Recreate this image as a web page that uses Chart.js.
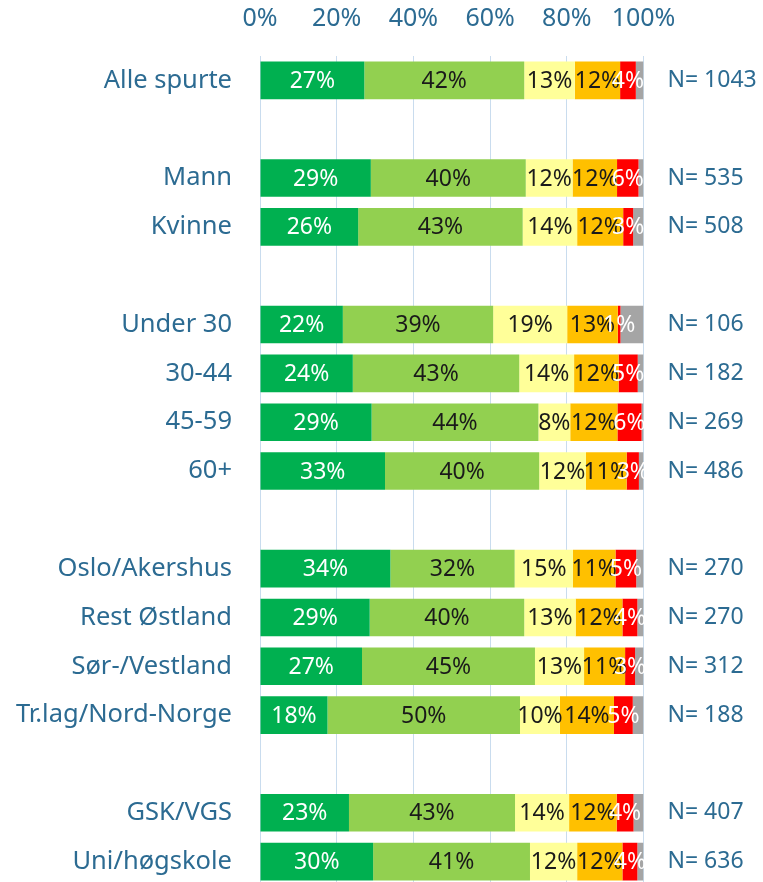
<!DOCTYPE html>
<html>
<head>
<meta charset="utf-8">
<script src="https://cdn.jsdelivr.net/npm/chart.js@4.4.0/dist/chart.umd.min.js"></script>
<style>
  html, body { margin: 0; padding: 0; background: #fff; overflow: hidden; }
  canvas { display: block; }
</style>
</head>
<body>
<canvas id="chart" width="763" height="886" style="width:763px;height:886px"></canvas>
<script>
// rows, blank strings are the gaps between groups
const categories = ["Alle spurte", "", "Mann", "Kvinne", "", "Under 30", "30-44", "45-59", "60+", "",
  "Oslo/Akershus", "Rest Østland", "Sør-/Vestland", "Tr.lag/Nord-Norge", "", "GSK/VGS", "Uni/høgskole"];
const nLabels = ["N= 1043", "", "N= 535", "N= 508", "", "N= 106", "N= 182", "N= 269", "N= 486", "",
  "N= 270", "N= 270", "N= 312", "N= 188", "", "N= 407", "N= 636"];

const s1 = [27.2, null, 28.9, 25.6, null, 21.6, 24.2, 29.1, 32.6, null, 34.0, 28.6, 26.6, 17.6, null, 23.2, 29.5];
const s2 = [41.7, null, 40.4, 42.9, null, 39.2, 43.4, 43.5, 40.2, null, 32.4, 40.3, 45.1, 50.2, null, 43.3, 40.9];
const s3 = [13.2, null, 12.2, 14.2, null, 19.3, 14.3, 8.3, 12.2, null, 15.2, 13.4, 12.8, 10.4, null, 14.1, 12.3];
const s4 = [11.8, null, 11.6, 12.0, null, 13.2, 11.6, 12.3, 10.6, null, 11.1, 12.2, 10.7, 14.1, null, 12.4, 11.8];
const s5 = [4.1, null, 5.6, 2.6, null, 0.7, 5.0, 6.3, 3.2, null, 5.4, 3.9, 2.6, 4.9, null, 4.4, 3.9];
const s6 = [2.0, null, 1.3, 2.7, null, 6.0, 1.5, 0.5, 1.2, null, 1.9, 1.6, 2.2, 2.8, null, 2.6, 1.6];

const xTicks = [0, 20, 40, 60, 80, 100];

const TEXT = "#2C6B92";
const FONT = "'Noto Sans', sans-serif";

const segLabels = {
  id: "segLabels",
  afterDatasetsDraw(chart) {
    const ctx = chart.ctx;
    ctx.save();
    ctx.font = "23px " + FONT;
    ctx.textAlign = "center";
    ctx.textBaseline = "middle";
    chart.data.datasets.forEach((ds, i) => {
      if (!ds.labelColor) return;
      const meta = chart.getDatasetMeta(i);
      meta.data.forEach((el, j) => {
        const v = ds.data[j];
        if (v == null) return;
        const p = el.getCenterPoint();
        ctx.fillStyle = ds.labelColor;
        ctx.fillText(Math.round(v) + "%", p.x, p.y + 1);
      });
    });
    ctx.restore();
  }
};

// fixed widths, and no extra vertical padding from the side axes
function sideFit(w) {
  return s => { s.width = w; s.paddingTop = 0; s.paddingBottom = 0; };
}

new Chart(document.getElementById("chart"), {
  type: "bar",
  data: {
    labels: categories,
    datasets: [
      {data: s1, backgroundColor: "#00B050", labelColor: "#FFFFFF"},
      {data: s2, backgroundColor: "#92D050", labelColor: "#1A1A1A"},
      {data: s3, backgroundColor: "#FFFF99", labelColor: "#1A1A1A"},
      {data: s4, backgroundColor: "#FFC000", labelColor: "#1A1A1A"},
      {data: s5, backgroundColor: "#FF0000", labelColor: "#FFFFFF"},
      {data: s6, backgroundColor: "#A5A5A5", labelColor: null}
    ]
  },
  options: {
    indexAxis: "y",
    responsive: false,
    animation: false,
    devicePixelRatio: 1,
    layout: {padding: 0},
    categoryPercentage: 1,
    barPercentage: 0.77,
    plugins: {legend: {display: false}, tooltip: {enabled: false}},
    scales: {
      x: {
        position: "top",
        stacked: true,
        min: 0, max: 100,
        afterBuildTicks: s => { s.ticks = xTicks.map(v => ({value: v})); },
        afterFit: s => { s.height = 56; },
        grid: {color: "#C9DCEE", lineWidth: 1, drawTicks: false},
        border: {display: false},
        ticks: {color: TEXT, font: {family: FONT, size: 25}, padding: 22, callback: v => v + "%"}
      },
      y: {
        stacked: true,
        afterFit: sideFit(260),
        grid: {display: false, drawTicks: false},
        border: {display: false},
        ticks: {color: TEXT, font: {family: FONT, size: 25.5}, padding: 28, autoSkip: false}
      },
      y2: {
        type: "category",
        labels: nLabels,
        position: "right",
        offset: true,
        afterFit: sideFit(119.5),
        grid: {display: false, drawTicks: false},
        border: {display: false},
        ticks: {color: TEXT, font: {family: FONT, size: 23}, padding: 24, autoSkip: false}
      }
    }
  },
  plugins: [segLabels]
});
</script>
</body>
</html>
